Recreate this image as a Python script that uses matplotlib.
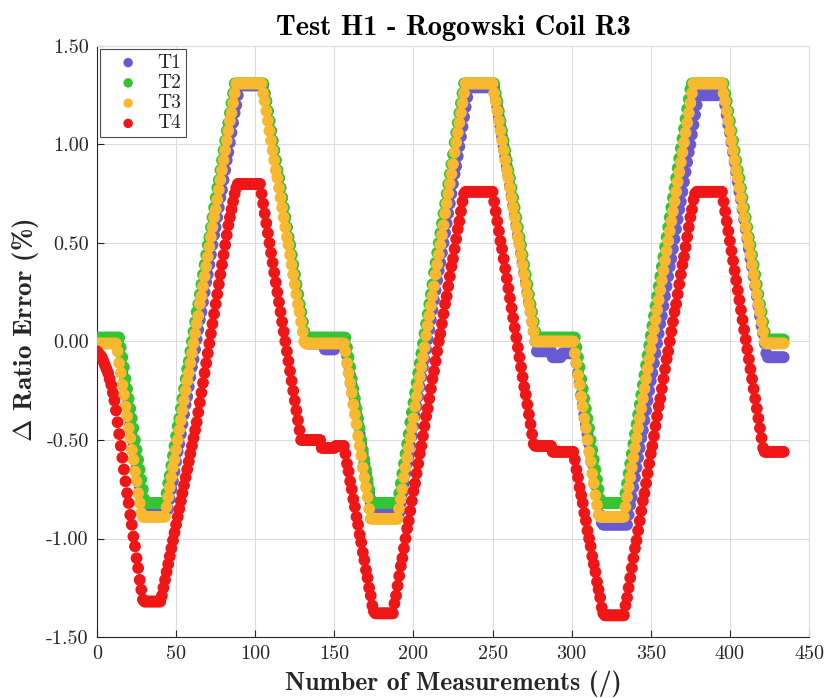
import numpy as np
import matplotlib
matplotlib.use('Agg')
import matplotlib.pyplot as plt
from matplotlib.ticker import FormatStrFormatter, MultipleLocator

# =========================
# DATA (read off the reference, one value per measurement)
# =========================
n_meas = 435
measurement = np.arange(n_meas)

# shared ramp pieces (falls from the peaks)
fall_peak = [1.26, 1.22, 1.17, 1.12, 1.07, 1.02, 0.97, 0.92, 0.87, 0.83,
             0.78, 0.73, 0.68, 0.63, 0.58, 0.53, 0.49, 0.44, 0.39, 0.34,
             0.29, 0.24, 0.19, 0.15, 0.10, 0.05, 0.00]

t1_ratio = ([0.00] * 14
            + [-0.05, -0.11, -0.16, -0.21, -0.27, -0.32, -0.37, -0.42, -0.48, -0.53,
               -0.58, -0.64, -0.69, -0.74, -0.79, -0.83]
            + [-0.85] * 16
            + [-0.80, -0.75, -0.71, -0.66, -0.61, -0.56, -0.52, -0.47, -0.42, -0.37,
               -0.32, -0.28, -0.23, -0.18, -0.13, -0.09, -0.04, 0.01, 0.06, 0.11,
               0.15, 0.20, 0.25, 0.30, 0.34, 0.39, 0.44, 0.49, 0.54, 0.58,
               0.63, 0.68, 0.73, 0.77, 0.82, 0.87, 0.92, 0.96, 1.01, 1.06,
               1.11, 1.16, 1.20, 1.25, 1.30]
            + [1.30] * 15
            + fall_peak
            + [-0.01] * 11 + [-0.04] * 7 + [-0.02] * 7
            + [-0.07, -0.12, -0.17, -0.22, -0.27, -0.32, -0.37, -0.42, -0.47, -0.52,
               -0.57, -0.62, -0.67, -0.72, -0.77, -0.82, -0.85]
            + [-0.87] * 17
            + [-0.82, -0.77, -0.72, -0.67, -0.62, -0.58, -0.53, -0.48, -0.43, -0.38,
               -0.33, -0.28, -0.23, -0.18, -0.13, -0.09, -0.04, 0.01, 0.06, 0.11,
               0.16, 0.21, 0.26, 0.31, 0.36, 0.40, 0.45, 0.50, 0.55, 0.60,
               0.65, 0.70, 0.75, 0.80, 0.85, 0.89, 0.94, 0.99, 1.04, 1.09,
               1.14, 1.19, 1.24, 1.29]
            + [1.29] * 16
            + [1.24, 1.19, 1.14, 1.09, 1.04, 0.99, 0.94, 0.89, 0.84, 0.79,
               0.74, 0.69, 0.64, 0.59, 0.54, 0.50, 0.45, 0.40, 0.35, 0.30,
               0.25, 0.20, 0.15, 0.10, 0.05, 0.00, -0.05]
            + [-0.05] * 9 + [-0.08] * 6 + [-0.06] * 9
            + [-0.11, -0.16, -0.21, -0.27, -0.32, -0.37, -0.42, -0.47, -0.52, -0.57,
               -0.62, -0.68, -0.73, -0.78, -0.83, -0.88, -0.92]
            + [-0.93] * 16
            + [-0.88, -0.83, -0.79, -0.74, -0.69, -0.64, -0.59, -0.54, -0.49, -0.45,
               -0.40, -0.35, -0.30, -0.25, -0.20, -0.16, -0.11, -0.06, -0.01, 0.04,
               0.09, 0.13, 0.18, 0.23, 0.28, 0.33, 0.38, 0.42, 0.47, 0.52,
               0.57, 0.62, 0.67, 0.71, 0.76, 0.81, 0.86, 0.91, 0.96, 1.00,
               1.05, 1.10, 1.15, 1.20, 1.25]
            + [1.25] * 16
            + [1.20, 1.15, 1.10, 1.06, 1.01, 0.96, 0.91, 0.86, 0.81, 0.76,
               0.72, 0.67, 0.62, 0.57, 0.52, 0.47, 0.42, 0.38, 0.33, 0.28,
               0.23, 0.18, 0.13, 0.08, 0.04, -0.01, -0.06]
            + [-0.08] * 11)

t2_fall = [-0.03, -0.08, -0.13, -0.19, -0.24, -0.29, -0.34, -0.39, -0.44, -0.50,
           -0.55, -0.60, -0.65, -0.70, -0.75, -0.80]

t2_ratio = ([0.02] * 15
            + t2_fall
            + [-0.82] * 13
            + [-0.77, -0.72, -0.68, -0.63, -0.58, -0.53, -0.48, -0.43, -0.39, -0.34,
               -0.29, -0.24, -0.19, -0.14, -0.10, -0.05, 0.00, 0.05, 0.10, 0.15,
               0.19, 0.24, 0.29, 0.34, 0.39, 0.44, 0.49, 0.53, 0.58, 0.63,
               0.68, 0.73, 0.78, 0.82, 0.87, 0.92, 0.97, 1.02, 1.07, 1.11,
               1.16, 1.21, 1.26, 1.31]
            + [1.31] * 18
            + fall_peak
            + [0.02] * 25
            + t2_fall
            + [-0.82] * 17
            + [-0.77, -0.72, -0.67, -0.62, -0.57, -0.52, -0.47, -0.41, -0.36, -0.31,
               -0.26, -0.21, -0.16, -0.11, -0.06, -0.01, 0.04, 0.09, 0.14, 0.19,
               0.24, 0.29, 0.35, 0.40, 0.45, 0.50, 0.55, 0.60, 0.65, 0.70,
               0.75, 0.80, 0.85, 0.90, 0.95, 1.01, 1.06, 1.11, 1.16, 1.21,
               1.26, 1.31]
            + [1.31] * 19
            + fall_peak
            + [0.02] * 24
            + t2_fall
            + [-0.82] * 15
            + [-0.77, -0.72, -0.67, -0.62, -0.57, -0.52, -0.47, -0.42, -0.37, -0.32,
               -0.27, -0.22, -0.17, -0.12, -0.07, -0.02, 0.03, 0.08, 0.13, 0.18,
               0.23, 0.28, 0.33, 0.38, 0.43, 0.48, 0.53, 0.58, 0.63, 0.68,
               0.73, 0.78, 0.83, 0.88, 0.93, 0.98, 1.03, 1.08, 1.13, 1.18,
               1.23, 1.28, 1.31]
            + [1.31] * 20
            + fall_peak
            + [0.01] * 11)

t3_ratio = ([-0.01] * 13
            + [-0.05, -0.11, -0.16, -0.22, -0.27, -0.33, -0.38, -0.44, -0.49, -0.55,
               -0.60, -0.66, -0.71, -0.77, -0.82, -0.87]
            + [-0.89] * 15
            + [-0.84, -0.79, -0.74, -0.69, -0.64, -0.60, -0.55, -0.50, -0.45, -0.40,
               -0.35, -0.30, -0.25, -0.20, -0.16, -0.11, -0.06, -0.01, 0.04, 0.09,
               0.13, 0.19, 0.23, 0.28, 0.33, 0.38, 0.43, 0.48, 0.53, 0.58,
               0.63, 0.67, 0.72, 0.77, 0.82, 0.87, 0.92, 0.97, 1.02, 1.07,
               1.12, 1.16, 1.21, 1.26, 1.31]
            + [1.31] * 16
            + fall_peak
            + [-0.01] * 25
            + [-0.05, -0.11, -0.16, -0.21, -0.26, -0.32, -0.37, -0.42, -0.48, -0.53,
               -0.58, -0.64, -0.69, -0.74, -0.79, -0.85, -0.90]
            + [-0.90] * 17
            + [-0.85, -0.80, -0.75, -0.69, -0.64, -0.59, -0.54, -0.49, -0.44, -0.39,
               -0.33, -0.28, -0.23, -0.18, -0.13, -0.08, -0.03, 0.03, 0.08, 0.13,
               0.18, 0.23, 0.28, 0.34, 0.39, 0.44, 0.49, 0.54, 0.59, 0.65,
               0.70, 0.75, 0.80, 0.85, 0.90, 0.96, 1.01, 1.06, 1.11, 1.16,
               1.21, 1.26, 1.31]
            + [1.31] * 17
            + fall_peak
            + [0.00] * 24
            + [-0.06, -0.11, -0.17, -0.22, -0.28, -0.33, -0.39, -0.44, -0.50, -0.56,
               -0.61, -0.67, -0.72, -0.78, -0.83, -0.88]
            + [-0.89] * 16
            + [-0.84, -0.79, -0.74, -0.69, -0.64, -0.59, -0.54, -0.49, -0.44, -0.39,
               -0.34, -0.29, -0.24, -0.19, -0.14, -0.09, -0.04, 0.01, 0.06, 0.11,
               0.16, 0.21, 0.26, 0.31, 0.36, 0.41, 0.46, 0.51, 0.56, 0.61,
               0.66, 0.71, 0.76, 0.81, 0.86, 0.91, 0.96, 1.01, 1.06, 1.11,
               1.16, 1.21, 1.26, 1.31]
            + [1.31] * 18
            + fall_peak
            + [-0.01] * 12)

t4_ratio = ([-0.05, -0.06, -0.07, -0.08, -0.10, -0.12, -0.14, -0.16, -0.19, -0.22,
             -0.26, -0.30]
            + [-0.35, -0.41, -0.47, -0.53, -0.59, -0.65, -0.71, -0.77, -0.82, -0.88,
               -0.93, -0.99, -1.04, -1.10, -1.15, -1.21, -1.26, -1.31]
            + [-1.32] * 11
            + [-1.29, -1.25, -1.21, -1.17, -1.13, -1.09, -1.05, -1.01, -0.97, -0.93,
               -0.89, -0.85, -0.81, -0.77, -0.73, -0.69, -0.65, -0.61, -0.57, -0.53,
               -0.49, -0.45, -0.41, -0.36, -0.31, -0.26, -0.21, -0.16, -0.11, -0.06,
               -0.01, 0.04, 0.09, 0.14, 0.19, 0.24, 0.29, 0.34, 0.39, 0.44,
               0.49, 0.54, 0.59, 0.63, 0.67, 0.71, 0.75, 0.78, 0.80]
            + [0.80] * 14
            + [0.75, 0.70, 0.65, 0.60, 0.55, 0.50, 0.45, 0.40, 0.35, 0.30,
               0.25, 0.20, 0.15, 0.10, 0.05, 0.00, -0.05, -0.10, -0.15, -0.20,
               -0.25, -0.30, -0.35, -0.40, -0.45, -0.50]
            + [-0.50] * 12 + [-0.54] * 9 + [-0.53] * 6
            + [-0.57, -0.62, -0.66, -0.71, -0.75, -0.80, -0.84, -0.89, -0.93, -0.98,
               -1.02, -1.07, -1.11, -1.16, -1.20, -1.25, -1.29, -1.34, -1.37]
            + [-1.38] * 12
            + [-1.33, -1.29, -1.24, -1.19, -1.14, -1.10, -1.05, -1.00, -0.95, -0.91,
               -0.86, -0.81, -0.76, -0.72, -0.67, -0.62, -0.57, -0.53, -0.48, -0.43,
               -0.38, -0.34, -0.29, -0.24, -0.19, -0.15, -0.10, -0.05, 0.00, 0.04,
               0.09, 0.14, 0.19, 0.23, 0.28, 0.33, 0.38, 0.42, 0.47, 0.52,
               0.57, 0.61, 0.66, 0.71, 0.75]
            + [0.76] * 18
            + [0.71, 0.66, 0.61, 0.56, 0.51, 0.47, 0.42, 0.37, 0.32, 0.27,
               0.22, 0.17, 0.12, 0.07, 0.02, -0.03, -0.08, -0.13, -0.18, -0.23,
               -0.27, -0.32, -0.37, -0.42, -0.47, -0.52]
            + [-0.53] * 11 + [-0.56] * 14
            + [-0.60, -0.65, -0.69, -0.74, -0.78, -0.82, -0.87, -0.91, -0.96, -1.00,
               -1.04, -1.09, -1.13, -1.17, -1.22, -1.26, -1.30, -1.35, -1.38]
            + [-1.39] * 13
            + [-1.34, -1.30, -1.25, -1.20, -1.15, -1.10, -1.05, -1.01, -0.96, -0.91,
               -0.86, -0.81, -0.77, -0.72, -0.67, -0.62, -0.57, -0.53, -0.48, -0.43,
               -0.38, -0.33, -0.29, -0.24, -0.19, -0.14, -0.09, -0.05, 0.00, 0.05,
               0.10, 0.15, 0.19, 0.24, 0.29, 0.34, 0.39, 0.43, 0.48, 0.53,
               0.58, 0.63, 0.67, 0.72, 0.75]
            + [0.76] * 17
            + [0.71, 0.66, 0.61, 0.56, 0.51, 0.46, 0.41, 0.36, 0.31, 0.26,
               0.21, 0.16, 0.11, 0.06, 0.01, -0.04, -0.09, -0.14, -0.19, -0.24,
               -0.29, -0.34, -0.39, -0.44, -0.49, -0.54]
            + [-0.56] * 13)

series_names = ['T1', 'T2', 'T3', 'T4']
series_values = [t1_ratio, t2_ratio, t3_ratio, t4_ratio]
series_colors = ['#6a5ad2', '#34c534', '#f8b930', '#ee1616']

for name, vals in zip(series_names, series_values):
    assert len(vals) == n_meas, (name, len(vals))

# =========================
# THEME SETTINGS
# =========================
AXIS_COLOR = '#262626'
GRID_COLOR = '#dcdcdc'

plt.rcParams['axes.unicode_minus'] = False
plt.rcParams['mathtext.fontset'] = 'cm'

fig = plt.figure(figsize=(8.27, 6.98), dpi=100)
ax = fig.add_axes([97 / 827, 1 - 637 / 698, 712 / 827, 591 / 698])

for name, vals, col in zip(series_names, series_values, series_colors):
    ax.scatter(measurement, vals, s=72, color=col, edgecolors='none',
               label=name, zorder=3)

ax.set_xlim(0, 450)
ax.set_ylim(-1.5, 1.5)
ax.xaxis.set_major_locator(MultipleLocator(50))
ax.yaxis.set_major_locator(MultipleLocator(0.5))
ax.yaxis.set_major_formatter(FormatStrFormatter('%.2f'))

ax.grid(True, color=GRID_COLOR, linewidth=0.8)
ax.set_axisbelow(True)

for side in ['left', 'bottom']:
    ax.spines[side].set_color(AXIS_COLOR)
    ax.spines[side].set_linewidth(0.8)
for side in ['top', 'right']:
    ax.spines[side].set_color(GRID_COLOR)
    ax.spines[side].set_linewidth(0.8)

ax.tick_params(direction='in', length=5, width=0.8, color=AXIS_COLOR,
               labelcolor=AXIS_COLOR, labelsize=14.5, pad=6)
for lab in ax.get_xticklabels() + ax.get_yticklabels():
    lab.set_family('cmr10')

ax.set_title('Test H1 - Rogowski Coil R3', fontsize=20.5, family='cmb10',
             color='black', pad=8)
ax.set_xlabel('Number of Measurements (/)', fontsize=18.5, family='cmb10',
              color=AXIS_COLOR, labelpad=5)
ax.set_ylabel(r'$\mathbf{\Delta}$ Ratio Error (%)', fontsize=19.5, family='cmb10',
              color=AXIS_COLOR)
ax.yaxis.set_label_coords(-0.079, 0.52)

leg = ax.legend(loc='upper left', fancybox=False, framealpha=1,
                edgecolor='#4d4d4d', borderaxespad=0.15, handletextpad=0.3,
                handlelength=2.4, labelspacing=0.12, borderpad=0.25,
                prop={'family': 'cmr10', 'size': 14}, markerscale=0.8)
leg.get_frame().set_linewidth(0.8)
for txt in leg.get_texts():
    txt.set_color(AXIS_COLOR)

fig.savefig('out.png', dpi=100)
